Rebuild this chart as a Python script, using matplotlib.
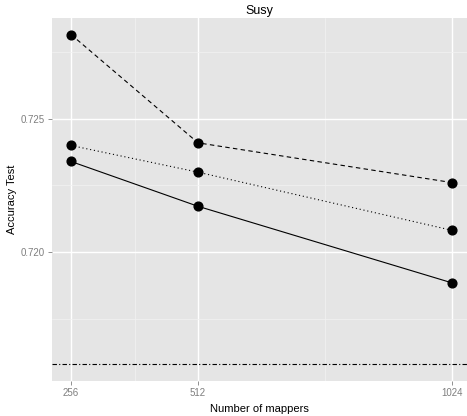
import matplotlib
matplotlib.use("Agg")
import matplotlib.pyplot as plt

# data
mappers = [256, 512, 1024]
acc_dashed = [0.72815, 0.72409, 0.72260]
acc_dotted = [0.72399, 0.72299, 0.72081]
acc_solid = [0.72339, 0.72171, 0.71884]
baseline = 0.71578

plt.rcParams['font.family'] = ['Liberation Sans', 'DejaVu Sans']

fig = plt.figure(figsize=(4.67, 4.16), dpi=100)
ax = fig.add_axes([52 / 467, 1 - 381 / 416, 415 / 467, 363 / 416])
ax.set_facecolor('#e5e5e5')
for s in ax.spines.values():
    s.set_visible(False)

# grid, ggplot style
ax.set_xticks([256, 512, 1024])
ax.set_xticks([384, 768], minor=True)
ax.set_yticks([0.720, 0.725])
ax.set_yticks([0.7175, 0.7225, 0.7275], minor=True)
ax.set_yticklabels(['0.720', '0.725'])
ax.grid(True, which='major', color='white', linewidth=1.0)
ax.grid(True, which='minor', color='#f2f2f2', linewidth=0.5)
ax.set_axisbelow(True)
ax.tick_params(which='major', colors='#7f7f7f', labelsize=7, length=3, width=0.6, pad=2)
ax.tick_params(which='minor', length=0)

ax.axhline(baseline, color='black', linewidth=0.8, dashes=(4, 2, 1, 2))

ax.plot(mappers, acc_dashed, color='black', linewidth=0.8, dashes=(4, 3),
        marker='o', markersize=6.3)
ax.plot(mappers, acc_dotted, color='black', linewidth=0.8, dashes=(1, 2.5),
        marker='o', markersize=6.3)
ax.plot(mappers, acc_solid, color='black', linewidth=0.8,
        marker='o', markersize=6.3)

ax.set_xlim(217.6, 1054.4)
ax.set_ylim(0.71516, 0.72877)

ax.set_title('Susy', fontsize=9, pad=3)
ax.set_xlabel('Number of mappers', fontsize=8, labelpad=4)
ax.set_ylabel('Accuracy Test', fontsize=8, labelpad=3)

fig.savefig('out.png', dpi=100)
